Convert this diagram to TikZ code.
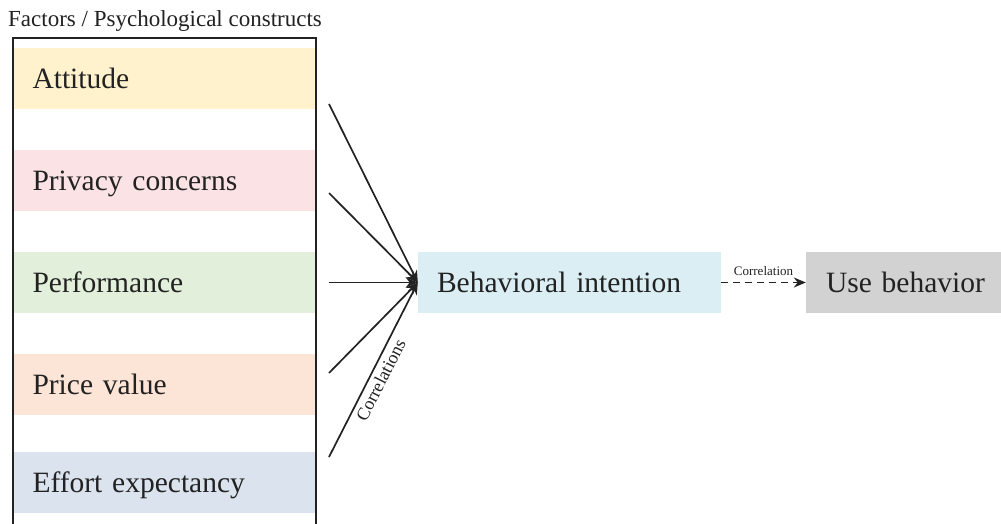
\documentclass[tikz,border=0pt]{standalone}
\usepackage{fontspec}
\setmainfont{Liberation Serif}
\usetikzlibrary{arrows.meta}
\definecolor{cAtt}{HTML}{FFF2CC}
\definecolor{cPriv}{HTML}{FBE2E5}
\definecolor{cPerf}{HTML}{E2EFDA}
\definecolor{cPrice}{HTML}{FCE4D6}
\definecolor{cEff}{HTML}{DAE3EE}
\definecolor{cBI}{HTML}{DAEEF3}
\definecolor{cUB}{HTML}{D2D2D2}
\definecolor{ink}{HTML}{222222}
\tikzset{
  bigtext/.style={font=\fontsize{29.5}{34}\selectfont, text=ink},
  boxed/.style={bigtext, draw=none, minimum height=61pt, inner ysep=0pt,
    align=left, text height=24pt, text depth=4pt},
  bar/.style={boxed, inner xsep=18.5pt, text width=264pt},
  conn/.style={draw=ink, line width=1.7pt, -{Stealth[length=12pt,width=10pt]}},
}
\begin{document}
\begin{tikzpicture}[x=1pt,y=-1pt]
\useasboundingbox (0,0) rectangle (1001,524);
\fill[white] (0,0) rectangle (1001,524);
% title
\node[anchor=base west, inner sep=0pt, font=\fontsize{23}{26}\selectfont, text=ink] (title) at (8,27) {Factors / Psychological constructs};
% outer frame
\draw[ink, line width=1.6pt] (13,524) -- (13,38) -- (316,38) -- (316,524);
% bars
\node[bar, fill=cAtt]   (att)   at (164.5,78.5)  {Attitude};
\node[bar, fill=cPriv]  (priv)  at (164.5,180.5) {Privacy concerns};
\node[bar, fill=cPerf]  (perf)  at (164.5,282.5) {Performance};
\node[bar, fill=cPrice] (price) at (164.5,384.5) {Price value};
\node[bar, fill=cEff]   (eff)   at (164.5,482.5) {Effort expectancy};
% right boxes
\node[boxed, fill=cBI, inner xsep=19pt, text width=265pt] (bi) at (569.5,282.5) {Behavioral intention};
\node[boxed, fill=cUB, inner xsep=20pt, text width=175pt] (ub) at (913.5,282.5) {Use behavior};
% start points
\coordinate (s1) at (329,104);
\coordinate (s2) at (329,193);
\coordinate (s3) at (329,282.5);
\coordinate (s4) at (329,373);
\coordinate (s5) at (329,457);
\draw[conn] (s1) -- (bi.west);
\draw[conn] (s2) -- (bi.west);
\draw[conn] (s3) -- (bi.west);
\draw[conn] (s4) -- (bi.west);
\draw[conn] (s5) -- node[pos=0.47, sloped, below, inner sep=4pt, font=\fontsize{18}{20}\selectfont, text=ink] (corrs) {Correlations} (bi.west);
% dashed arrow
\draw[draw=ink, line width=1.6pt, dash pattern=on 7pt off 5pt, -{Stealth[length=12pt,width=10pt]}] (bi.east) -- node[above, inner sep=6pt, font=\fontsize{13}{15}\selectfont, text=ink] (corr) {Correlation} (ub.west);
\end{tikzpicture}
\end{document}
